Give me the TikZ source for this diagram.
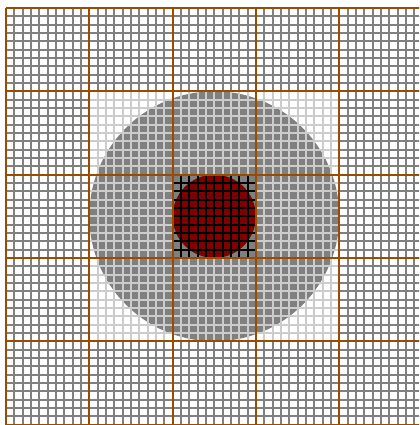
\documentclass[tikz,border=0pt]{standalone}
\usepackage{xcolor}
\definecolor{colCoarse}{RGB}{153,76,0}
\definecolor{colDisk}{RGB}{128,128,128}
\definecolor{colCore}{RGB}{128,0,0}

\begin{document}
\begin{tikzpicture}[
  x=0.25cm, y=0.25cm,
  fine/.style={draw=gray, line width=1.7pt},
  finelight/.style={draw=gray!40, line width=1.7pt},
  fineblack/.style={draw=black, line width=1.7pt},
  coarse/.style={draw=colCoarse, line width=1.7pt},
]
\useasboundingbox (-0.72,-0.05) rectangle (49.58,50.96);
\clip (-0.72,-0.05) rectangle (49.58,50.96);

% Level 0: fine grid over the whole domain
\foreach \i in {0,...,50} {
  \draw[fine] (\i,0) -- (\i,50);
  \draw[fine] (0,\i) -- (50,\i);
}

% Level 1: refined patch with the outer disk
\fill[white] (10,10) rectangle (40,40);
\coordinate (c) at (25,25);
\fill[colDisk] (c) circle (15);
\foreach \i in {10,...,40} {
  \draw[finelight] (\i,10) -- (\i,40);
  \draw[finelight] (10,\i) -- (40,\i);
}

% Level 2: inner core
\fill[colCore] (c) circle (5);
\foreach \i in {20,...,30} {
  \draw[fineblack] (\i,20) -- (\i,30);
  \draw[fineblack] (20,\i) -- (30,\i);
}

% Coarse blocks
\foreach \i in {0,10,20,30,40,50} {
  \draw[coarse] (\i,0) -- (\i,50);
  \draw[coarse] (0,\i) -- (50,\i);
}
\end{tikzpicture}
\end{document}
